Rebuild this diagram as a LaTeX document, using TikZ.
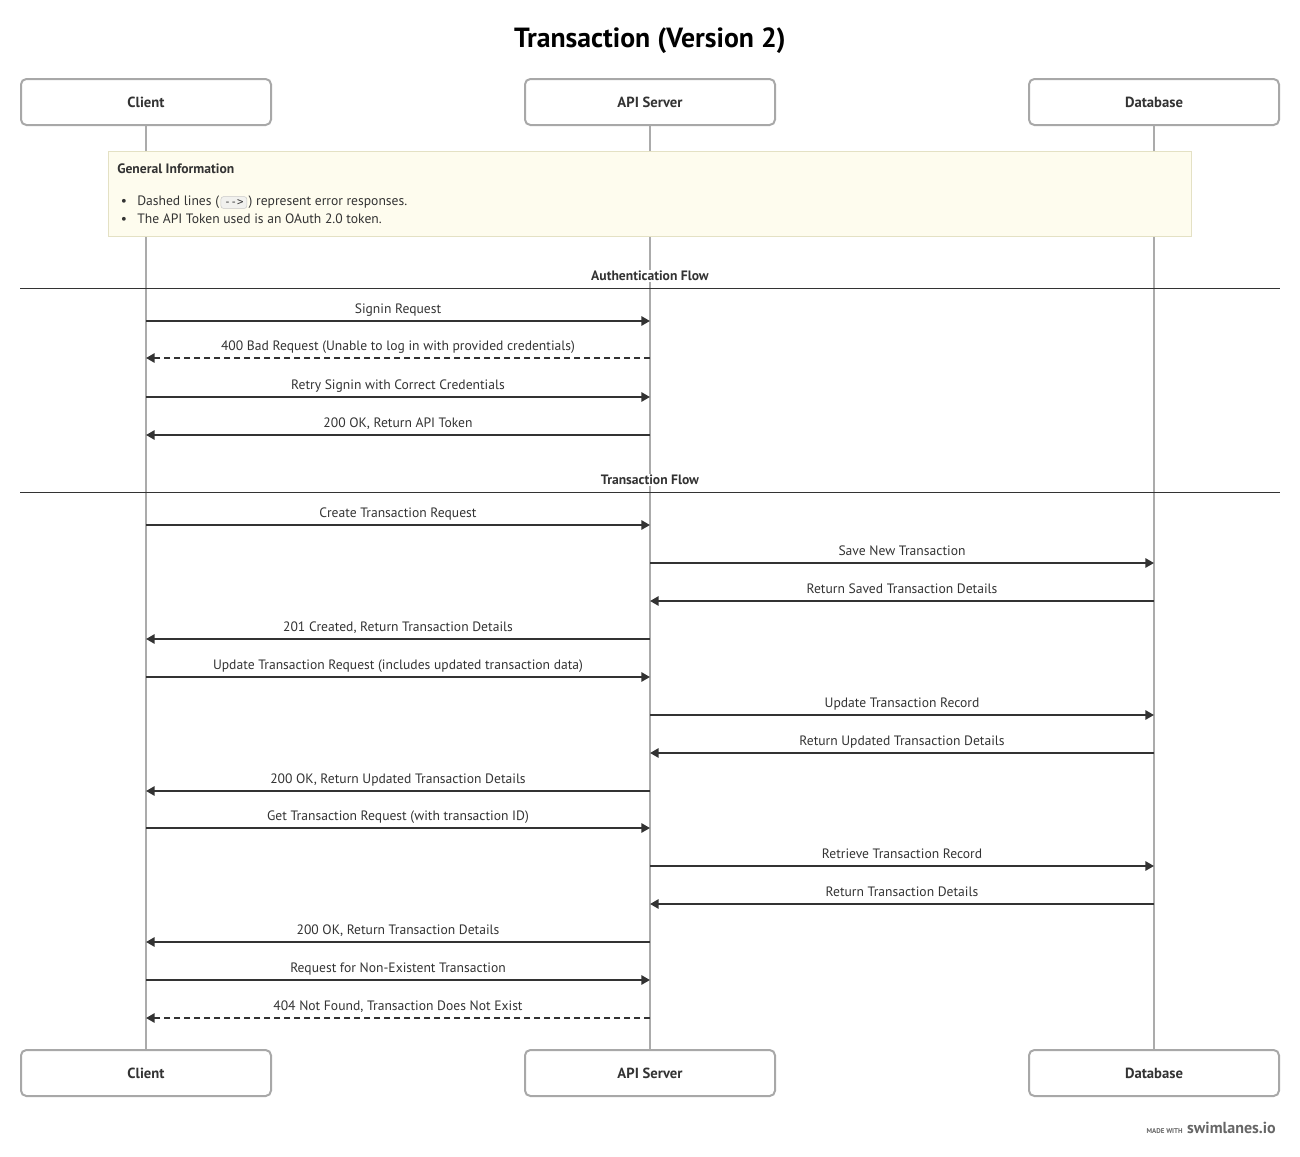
\documentclass[tikz,border=0pt]{standalone}
\usepackage{fontspec}
\setmainfont{PT Sans}
\setmonofont{DejaVu Sans Mono}
\usetikzlibrary{arrows.meta,positioning}
\definecolor{ink}{HTML}{333333}
\definecolor{boxgray}{HTML}{A8A8A8}
\definecolor{linegray}{HTML}{ABABAB}
\definecolor{notefill}{HTML}{FEFCEE}
\definecolor{noteline}{HTML}{E4E1C4}
\definecolor{codefill}{HTML}{F1F1EE}
\definecolor{codeline}{HTML}{C8C8C8}
\definecolor{footgray}{HTML}{666666}

\begin{document}
\begin{tikzpicture}[x=0.75pt,y=-0.75pt]
\tikzset{
  actor/.style={draw=boxgray, line width=1.5pt, rounded corners=4pt, fill=white,
    minimum width=187.5pt, minimum height=34.5pt, text=ink,
    font=\fontsize{11}{13}\selectfont\bfseries},
  life/.style={draw=linegray, line width=1.5pt},
  msg/.style={draw=ink, line width=1.5pt, -{Triangle[length=6.5pt,width=7pt]}},
  err/.style={msg, dash pattern=on 4.5pt off 3pt},
  lbl/.style={midway, anchor=base, yshift=6pt, inner sep=0pt, text=ink,
    font=\fontsize{10.2}{12}\selectfont},
  section/.style={anchor=base, fill=white, inner sep=1pt, text=ink,
    font=\fontsize{10.2}{12}\selectfont\bfseries},
  sectionline/.style={draw=ink, line width=0.75pt},
  notetxt/.style={anchor=base west, inner sep=0pt, text=ink,
    font=\fontsize{10.2}{12}\selectfont},
}
\useasboundingbox (0,0) rectangle (1300,1157);

% title
\node[anchor=base, text=black, font=\fontsize{20.8}{24}\selectfont\bfseries] (title) at (650,47) {Transaction (Version 2)};

% lifeline heads
\node[actor] (ct) at (146,102) {Client};
\node[actor] (at) at (650,102) {API Server};
\node[actor] (dt) at (1154,102) {Database};
\node[actor] (cb) at (146,1073) {Client};
\node[actor] (ab) at (650,1073) {API Server};
\node[actor] (db) at (1154,1073) {Database};

% lifelines
\draw[life] (ct.south) -- (cb.north);
\draw[life] (at.south) -- (ab.north);
\draw[life] (dt.south) -- (db.north);

% note
\draw[draw=noteline, fill=notefill, line width=0.75pt] (108,151) rectangle (1191,236);
\node[notetxt, font=\fontsize{10.2}{12}\selectfont\bfseries] (ntitle) at (117,173.5) {General Information};
\node[notetxt, anchor=base] (dot1) at (124,205.5) {\textbullet};
\node[notetxt] (n1) at (137,205.5) {Dashed lines (};
\node[right=1pt of n1.base east, anchor=base west, draw=codeline, fill=codefill, rounded corners=2pt,
  inner xsep=2.5pt, inner ysep=2.2pt, text=ink, font=\fontsize{8}{9}\selectfont\ttfamily] (code) {-{}->};
\node[notetxt, right=1pt of code.base east, anchor=base west] (n2) {) represent error responses.};
\node[notetxt, anchor=base] (dot2) at (124,223.5) {\textbullet};
\node[notetxt] (n3) at (137,223.5) {The API Token used is an OAuth 2.0 token.};

% authentication flow
\coordinate (s1l) at (20,288);
\coordinate (s1r) at (1280,288);
\draw[sectionline] (s1l) -- (s1r);
\node[section] (s1) at (650,280.5) {Authentication Flow};

\draw[msg] (ct |- 0,321) -- node[lbl]{Signin Request} (at |- 0,321);
\draw[err] (at |- 0,358) -- node[lbl]{400 Bad Request (Unable to log in with provided credentials)} (ct |- 0,358);
\draw[msg] (ct |- 0,397) -- node[lbl]{Retry Signin with Correct Credentials} (at |- 0,397);
\draw[msg] (at |- 0,435) -- node[lbl]{200 OK, Return API Token} (ct |- 0,435);

% transaction flow
\coordinate (s2l) at (20,492);
\coordinate (s2r) at (1280,492);
\draw[sectionline] (s2l) -- (s2r);
\node[section] (s2) at (650,484.5) {Transaction Flow};

\draw[msg] (ct |- 0,525) -- node[lbl]{Create Transaction Request} (at |- 0,525);
\draw[msg] (at |- 0,563) -- node[lbl]{Save New Transaction} (dt |- 0,563);
\draw[msg] (dt |- 0,601) -- node[lbl]{Return Saved Transaction Details} (at |- 0,601);
\draw[msg] (at |- 0,639) -- node[lbl]{201 Created, Return Transaction Details} (ct |- 0,639);
\draw[msg] (ct |- 0,677) -- node[lbl]{Update Transaction Request (includes updated transaction data)} (at |- 0,677);
\draw[msg] (at |- 0,715) -- node[lbl]{Update Transaction Record} (dt |- 0,715);
\draw[msg] (dt |- 0,753) -- node[lbl]{Return Updated Transaction Details} (at |- 0,753);
\draw[msg] (at |- 0,791) -- node[lbl]{200 OK, Return Updated Transaction Details} (ct |- 0,791);
\draw[msg] (ct |- 0,828) -- node[lbl]{Get Transaction Request (with transaction ID)} (at |- 0,828);
\draw[msg] (at |- 0,866) -- node[lbl]{Retrieve Transaction Record} (dt |- 0,866);
\draw[msg] (dt |- 0,904) -- node[lbl]{Return Transaction Details} (at |- 0,904);
\draw[msg] (at |- 0,942) -- node[lbl]{200 OK, Return Transaction Details} (ct |- 0,942);
\draw[msg] (ct |- 0,980) -- node[lbl]{Request for Non-Existent Transaction} (at |- 0,980);
\draw[err] (at |- 0,1018) -- node[lbl]{404 Not Found, Transaction Does Not Exist} (ct |- 0,1018);

% footer
\node[anchor=base east, inner sep=0pt, text=footgray, font=\fontsize{12}{14}\selectfont\bfseries] (brand) at (1276,1133) {swimlanes.io};
\node[left=3pt of brand.base west, anchor=base east, inner sep=0pt, text=footgray, font=\fontsize{5.2}{6}\selectfont\bfseries] (made) {MADE WITH};
\end{tikzpicture}
\end{document}
